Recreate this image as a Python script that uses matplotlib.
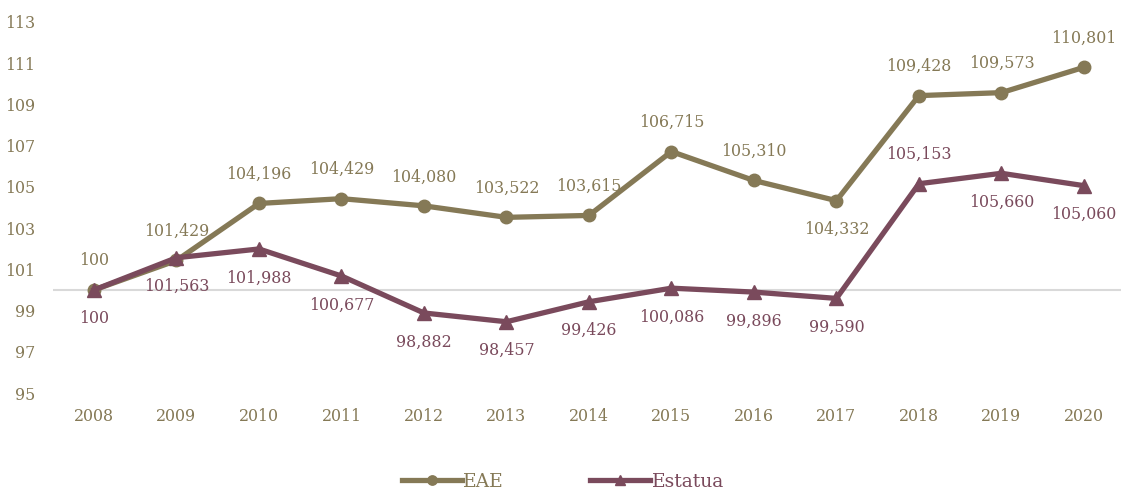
import matplotlib
matplotlib.use("Agg")
import matplotlib.pyplot as plt

years = ["2008", "2009", "2010", "2011", "2012", "2013", "2014",
         "2015", "2016", "2017", "2018", "2019", "2020"]
eae = [100, 101.429, 104.196, 104.429, 104.080, 103.522, 103.615,
       106.715, 105.310, 104.332, 109.428, 109.573, 110.801]
estatua = [100, 101.563, 101.988, 100.677, 98.882, 98.457, 99.426,
           100.086, 99.896, 99.590, 105.153, 105.660, 105.060]
eae_labels = ["100", "101,429", "104,196", "104,429", "104,080", "103,522", "103,615",
              "106,715", "105,310", "104,332", "109,428", "109,573", "110,801"]
est_labels = ["100", "101,563", "101,988", "100,677", "98,882", "98,457", "99,426",
              "100,086", "99,896", "99,590", "105,153", "105,660", "105,060"]
yticks = [95, 97, 99, 101, 103, 105, 107, 109, 111, 113]

C_EAE = "#857956"
C_EST = "#7a4a5c"
plt.rcParams['font.family'] = ['DejaVu Serif']

fig = plt.figure(figsize=(11.21, 4.90), dpi=100)
ax = fig.add_axes([53/1121, 97/490, 1068/1121, 371/490])
x = list(range(len(years)))

ax.axhline(100, color="#d9d9d9", lw=1.5, zorder=1)
ax.plot(x, eae, color=C_EAE, lw=3.8, marker="o", ms=9, label="EAE", zorder=3)
ax.plot(x, estatua, color=C_EST, lw=3.8, marker="^", ms=10, label="Estatua", zorder=4)

fs = 11.4
for i, (v, l) in enumerate(zip(eae, eae_labels)):
    off = -29 if i == 9 else 29
    ax.annotate(l, (i, v), xytext=(0, off), textcoords="offset pixels",
                ha="center", va="center", color=C_EAE, fontsize=fs)
for i, (v, l) in enumerate(zip(estatua, est_labels)):
    off = 29 if i == 10 else -29
    ax.annotate(l, (i, v), xytext=(0, off), textcoords="offset pixels",
                ha="center", va="center", color=C_EST, fontsize=fs)

ax.set_xlim(-0.497, 12.45)
ax.set_ylim(95, 113)
ax.set_xticks(x)
ax.set_xticklabels(years)
ax.set_yticks(yticks)
ax.tick_params(axis="both", length=0, colors=C_EAE, labelsize=fs)
ax.tick_params(axis="x", pad=11)
ax.tick_params(axis="y", pad=13)
for s in ax.spines.values():
    s.set_visible(False)

leg = fig.legend(loc="center", bbox_to_anchor=(563/1121, 1 - 482/490), ncol=2,
                 frameon=False, fontsize=13.5, handlelength=3.2, columnspacing=4.6,
                 handletextpad=0.1, markerscale=0.75)
for t, c in zip(leg.get_texts(), [C_EAE, C_EST]):
    t.set_color(c)

fig.savefig("out.png", dpi=100)
